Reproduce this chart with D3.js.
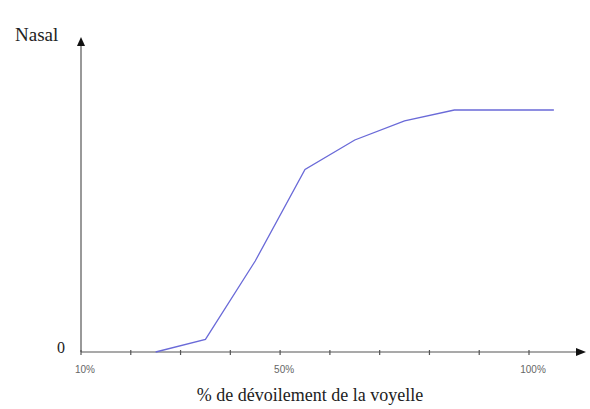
<!DOCTYPE html>
<html><head><meta charset="utf-8">
<script src="https://cdn.jsdelivr.net/npm/d3@7"></script>
<style>body{margin:0;background:#fff}svg{display:block}</style>
</head><body>
<script>
const xPercent = [25, 35, 45, 55, 65, 75, 85, 105];
const nasalValues = [0, 0.052, 0.376, 0.754, 0.876, 0.955, 1, 1];
const xTicks = [10, 20, 30, 40, 50, 60, 70, 80, 90, 100];
const xTickLabels = {10: "10%", 50: "50%", 100: "100%"};
const yTitle = "Nasal";
const xTitle = "% de dévoilement de la voyelle";
const yZeroLabel = "0";

const W = 590, H = 409;
const svg = d3.select("body").append("svg").attr("width", W).attr("height", H);
const x = d3.scaleLinear().domain([10, 100]).range([81, 529]);
const y = d3.scaleLinear().domain([0, 1]).range([352, 110]);
const axisColor = "#555";

// x axis line + arrow
svg.append("line").attr("x1", x(10)).attr("x2", 579).attr("y1", y(0)).attr("y2", y(0))
  .attr("stroke", axisColor).attr("stroke-width", 1.2);
svg.append("path").attr("d", `M576,${y(0)-4} L586,${y(0)} L576,${y(0)+4} Z`).attr("fill", "#111");
// y axis line + arrow
svg.append("line").attr("x1", x(10)).attr("x2", x(10)).attr("y1", y(0)).attr("y2", 46)
  .attr("stroke", axisColor).attr("stroke-width", 1.2);
svg.append("path").attr("d", `M${x(10)-4},46 L${x(10)},37 L${x(10)+4},46 Z`).attr("fill", "#111");

// ticks
svg.append("g").selectAll("line").data(xTicks).join("line")
  .attr("x1", d => x(d)).attr("x2", d => x(d)).attr("y1", y(0) - 2).attr("y2", y(0) + 3)
  .attr("stroke", axisColor).attr("stroke-width", 1.2);
svg.append("g").selectAll("text").data(xTicks.filter(d => xTickLabels[d])).join("text")
  .attr("x", d => x(d) + 4).attr("y", 373).attr("text-anchor", "middle")
  .attr("font-family", "Liberation Sans, Arial, sans-serif").attr("font-size", 10)
  .attr("fill", "#666").text(d => xTickLabels[d]);

// line
svg.append("path").datum(xPercent.map((p, i) => [p, nasalValues[i]]))
  .attr("d", d3.line().x(d => x(d[0])).y(d => y(d[1])))
  .attr("fill", "none").attr("stroke", "#6a6ad8").attr("stroke-width", 1.3);

// texts
svg.append("text").attr("x", 15).attr("y", 41).attr("font-family", "Liberation Serif, Times New Roman, serif")
  .attr("font-size", 19).attr("fill", "#222").text(yTitle);
svg.append("text").attr("x", 61).attr("y", 353).attr("text-anchor", "middle")
  .attr("font-family", "Liberation Serif, Times New Roman, serif")
  .attr("font-size", 16).attr("fill", "#222").text(yZeroLabel);
svg.append("text").attr("x", 310).attr("y", 401).attr("text-anchor", "middle")
  .attr("font-family", "Liberation Serif, Times New Roman, serif")
  .attr("font-size", 18).attr("fill", "#222").text(xTitle);
</script>
</body></html>
